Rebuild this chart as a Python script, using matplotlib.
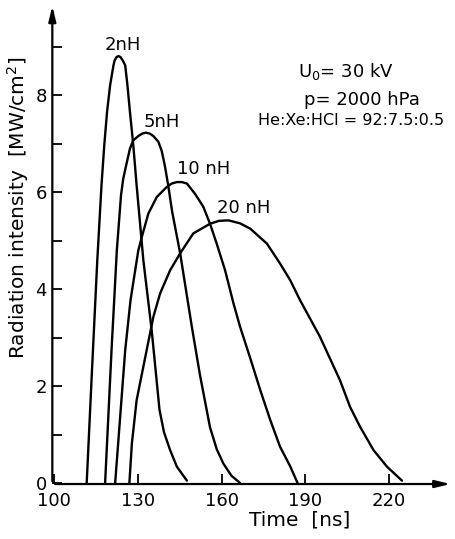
import numpy as np
import matplotlib
matplotlib.use("Agg")
import matplotlib.pyplot as plt

# values (time in ns, intensity in MW/cm^2)
t_2 = [111.6, 113.5, 115.4, 116.9, 117.9, 118.9, 120.0, 121.2, 121.6, 122.3, 123.0, 123.7,
       124.5, 125.4, 126.2, 127.1, 128.3, 129.5, 131.9, 134.9, 137.7, 139.3, 141.5, 143.9, 147.5]
i_2 = [0.0, 2.33, 4.60, 6.14, 6.97, 7.66, 8.21, 8.62, 8.72, 8.79, 8.81, 8.79,
       8.72, 8.62, 8.21, 7.66, 6.97, 6.14, 4.60, 3.15, 1.51, 1.05, 0.68, 0.34, 0.05]
t_5 = [118.2, 120.5, 122.4, 123.9, 124.7, 126.0, 127.1, 128.3, 130.1, 131.5, 132.8, 134.2,
       135.5, 137.3, 138.5, 139.6, 140.8, 142.2, 145.1, 149.3, 152.2, 155.8, 158.2, 160.6,
       163.5, 166.6]
i_5 = [0.0, 2.74, 4.80, 5.94, 6.28, 6.62, 6.90, 7.07, 7.16, 7.21, 7.23, 7.21,
       7.16, 7.04, 6.85, 6.55, 6.15, 5.61, 4.74, 3.22, 2.23, 1.15, 0.70, 0.40,
       0.15, 0.0]
t_10 = [121.8, 125.4, 127.3, 130.1, 131.7, 133.7, 136.7, 140.3, 142.1, 143.9, 145.7, 147.5,
        150.4, 153.4, 155.8, 158.2, 161.2, 164.2, 166.6, 170.2, 173.8, 177.4, 180.9, 184.5, 187.2]
i_10 = [0.0, 2.74, 3.77, 4.80, 5.15, 5.56, 5.90, 6.11, 6.18, 6.21, 6.21, 6.18,
        5.97, 5.70, 5.35, 4.94, 4.39, 3.71, 3.22, 2.58, 1.92, 1.30, 0.75, 0.35, 0.0]
t_20 = [126.9, 127.8, 129.5, 131.9, 135.5, 137.9, 141.5, 145.1, 149.8, 155.8, 159.0, 162.4,
        166.5, 170.2, 176.2, 180.9, 184.5, 188.1, 195.2, 202.4, 206.0, 209.6, 214.4, 219.2, 224.6]
i_20 = [0.0, 0.82, 1.71, 2.40, 3.43, 3.91, 4.39, 4.74, 5.15, 5.35, 5.41, 5.42,
        5.36, 5.25, 4.94, 4.53, 4.19, 3.77, 3.02, 2.12, 1.57, 1.16, 0.68, 0.34, 0.05]

labels = ["2nH", "5nH", "10 nH", "20 nH"]
label_pos = [(124.5, 9.03), (138.4, 7.45), (153.4, 6.47), (168.0, 5.67)]
xticks = [100, 130, 160, 190, 220]
yticks = [0, 2, 4, 6, 8]
yminor = [1, 3, 5, 7, 9]

fig = plt.figure(figsize=(4.55, 5.39), dpi=100)
ax = fig.add_axes([0.115, 0.102, 0.881, 0.892])

for t, i in [(t_2, i_2), (t_5, i_5), (t_10, i_10), (t_20, i_20)]:
    ax.plot(t, i, color="black", lw=1.7, solid_joinstyle="round", solid_capstyle="round")
for lab, (x, y) in zip(labels, label_pos):
    ax.text(x, y, lab, ha="center", va="center", fontsize=13)

ax.text(204.6, 8.49, "U$_0$= 30 kV", ha="center", va="center", fontsize=13)
ax.text(210.4, 7.90, "p= 2000 hPa", ha="center", va="center", fontsize=13)
ax.text(206.4, 7.48, "He:Xe:HCl = 92:7.5:0.5", ha="center", va="center", fontsize=11.5)

ax.set_xlim(99.28, 242.96)
ax.set_ylim(-0.02, 9.90)
for s in ax.spines.values():
    s.set_visible(False)
arrow = dict(arrowstyle="-|>,head_length=0.9,head_width=0.22", color="black", lw=1.6)
ax.annotate("", xy=(0, 1), xytext=(0, 0), xycoords="axes fraction", arrowprops=arrow)
ax.annotate("", xy=(1, 0), xytext=(0, 0), xycoords="axes fraction", arrowprops=arrow)

ax.set_xticks(xticks)
ax.set_yticks(yticks)
ax.set_yticks(yminor, minor=True)
ax.tick_params(direction="in", length=7, width=1.3, labelsize=13)
ax.tick_params(axis="y", which="minor", direction="in", length=7, width=1.3)
ax.tick_params(axis="x", pad=6)
ax.tick_params(axis="y", pad=4)

fig.text(18 / 455, 1 - 208 / 539, "Radiation intensity  [MW/cm$^2$]", rotation=90,
         ha="center", va="center", fontsize=14.5)
fig.text(300 / 455, 1 - 520 / 539, "Time  [ns]", ha="center", va="center", fontsize=14.5)

fig.savefig("out.png", dpi=100)
